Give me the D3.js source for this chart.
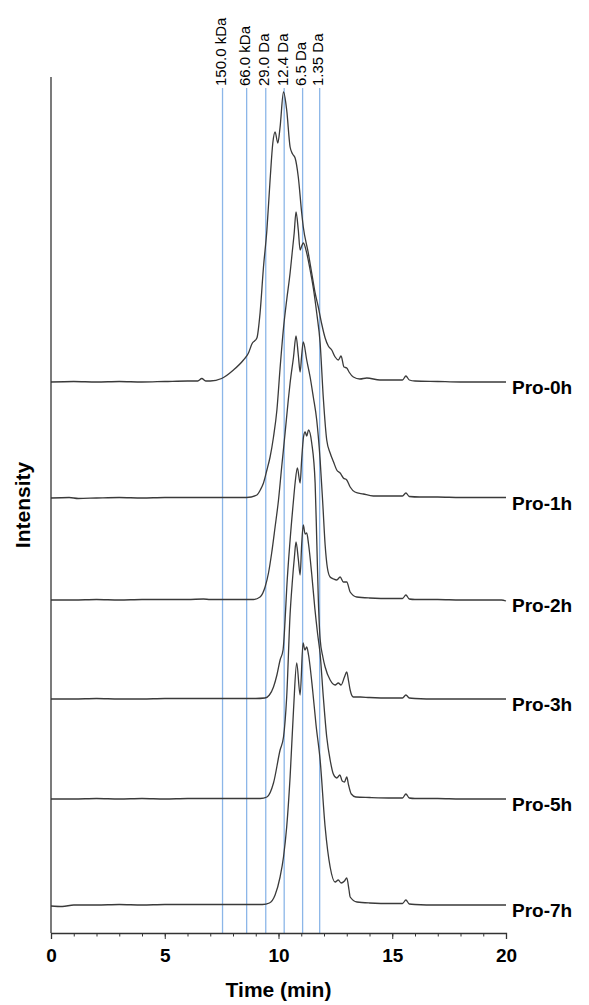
<!DOCTYPE html>
<html>
<head>
<meta charset="utf-8">
<script src="https://cdn.jsdelivr.net/npm/d3@7"></script>
<style>
  body { margin: 0; background: #fff; }
  text { font-family: Arial, "Liberation Sans", sans-serif; }
</style>
</head>
<body>
<div id="chart"></div>
<script>
// stacked SEC chromatograms, one per hydrolysis time

var seriesNames = ["Pro-0h", "Pro-1h", "Pro-2h", "Pro-3h", "Pro-5h", "Pro-7h"]
// vertical stacking offset of each trace (intensity units)
var seriesOffsets = [551, 435, 333, 234, 134, 28]

// [time (min), intensity above own baseline]
var pro0h = [[0,0],[1,0.5],[2,0],[3,0.5],[4,0],[5,0.5],[6,1],[6.45,1],[6.63,3.5],[6.8,1],[7.0,1],[7.5,3.5],
  [8.02,12],[8.46,22],[8.68,29],[8.83,38],[9.05,44],[9.19,69],[9.34,115],[9.49,152],[9.63,202],[9.75,239],
  [9.85,250],[9.97,239],[10.07,255],[10.22,290],[10.36,272],[10.51,235],[10.62,228],[10.73,224],[10.87,205],
  [11.02,169],[11.09,155],[11.31,129],[11.46,109],[11.61,89],[11.75,75],[11.9,58],[12.05,44],[12.19,36],
  [12.34,32],[12.49,25],[12.63,22],[12.75,26],[12.88,15],[13.0,14],[13.1,10],[13.29,5],[13.58,3],[13.88,4],
  [14.46,2],[15.0,2],[15.45,2],[15.6,6],[15.75,2],[16.0,1],[17,0.5],[18,0],[19,0],[20,0]]

var pro1h = [[0,0],[0.8,0.5],[1.2,-0.5],[2,0],[3,0.5],[4,0],[5,0.5],[6,0.5],[7,0.5],[8,0.5],[8.6,0.5],
  [9.05,3],[9.2,8],[9.34,15],[9.49,28],[9.63,41],[9.78,61],[9.93,88],[10.07,130],[10.22,170],[10.36,198],
  [10.51,225],[10.6,245],[10.69,265],[10.77,286],[10.87,268],[10.95,248],[11.02,252],[11.09,255],[11.24,245],
  [11.39,228],[11.53,210],[11.68,185],[11.83,155],[11.97,100],[12.12,58],[12.27,45],[12.42,36],[12.56,28],
  [12.71,25],[12.85,20],[13.0,18],[13.15,11],[13.36,6],[13.73,4],[14.17,2],[15.0,2],[15.45,2],[15.6,5],
  [15.75,1.5],[16.2,1],[17,1],[18,0.5],[19,0.5],[20,0.5]]

var pro2h = [[0,0],[1,0],[2,0.5],[3,0],[4,0.5],[5,0.5],[6,0.5],[6.7,1],[7,0.5],[8,0.5],[8.9,0.5],
  [9.19,3],[9.41,13],[9.56,27],[9.7,47],[9.85,73],[10.0,100],[10.14,133],[10.29,167],[10.43,200],[10.51,217],
  [10.66,243],[10.77,264],[10.87,245],[10.95,228],[11.02,245],[11.09,258],[11.24,240],[11.39,223],[11.53,203],
  [11.68,180],[11.83,140],[11.95,95],[12.05,55],[12.15,32],[12.27,23],[12.42,21],[12.56,20],[12.71,23],
  [12.85,18],[13.0,18],[13.15,8],[13.44,3],[14,2],[15,1.5],[15.45,1.5],[15.6,5],[15.75,1],[16,0.5],[17,0.5],
  [18,0],[19,0],[19.8,0],[20,-1]]

var pro3h = [[0,0],[1,0],[2,0.5],[3,0],[4,0],[5,0.5],[6,0.5],[7,0.5],[8,0.5],[9,0.5],[9.4,1],[9.6,4],
  [9.78,12],[9.93,24],[10.07,39],[10.2,49],[10.29,79],[10.36,110],[10.51,159],[10.66,199],[10.73,216],
  [10.83,231],[10.95,216],[11.02,240],[11.1,262],[11.17,267],[11.24,263],[11.32,269],[11.46,256],[11.61,216],
  [11.68,160],[11.75,100],[11.83,60],[11.95,42],[12.05,32],[12.27,19],[12.49,14],[12.63,16],[12.75,14],
  [12.9,22],[13.0,27],[13.08,18],[13.15,9],[13.29,2],[13.6,2],[14,1.5],[15,1],[15.45,1],[15.6,4],[15.75,1],
  [16,0.5],[17,0],[18,0],[20,0]]

var pro5h = [[0,0],[1,0],[2,0.5],[3,0],[4,0.5],[5,0],[6,0.5],[7,0.5],[8,0.5],[9.2,0.5],[9.49,2],[9.78,16],
  [10.07,49],[10.22,62],[10.36,102],[10.51,185],[10.6,215],[10.7,242],[10.77,257],[10.87,240],[10.95,224],
  [11.02,255],[11.09,274],[11.17,265],[11.24,266],[11.32,255],[11.46,225],[11.6,190],[11.72,165],[11.83,145],
  [11.97,102],[12.12,62],[12.27,39],[12.41,25],[12.56,21],[12.7,24],[12.8,18],[12.9,17],[13.0,22],[13.08,14],
  [13.2,5],[13.4,2],[14,1.5],[15,1],[15.45,1],[15.6,5],[15.75,1],[16,0.5],[17,0.5],[18,0],[20,0]]

var pro7h = [[0,-1],[0.5,-1.5],[1,0],[2,0],[3,0.5],[4,0],[5,0.5],[6,0.5],[7,0.5],[8,0.5],[9.3,0.5],[9.6,2],
  [9.85,10],[10.07,28],[10.22,48],[10.36,78],[10.51,128],[10.66,195],[10.8,242],[10.95,210],[11.08,262],
  [11.16,255],[11.24,258],[11.32,250],[11.5,215],[11.65,180],[11.83,145],[12.05,78],[12.27,38],[12.49,23],
  [12.63,25],[12.75,22],[12.9,24],[13.0,27],[13.1,15],[13.15,8],[13.45,3],[14,2],[15,1.5],[15.45,1.5],
  [15.6,5],[15.75,1],[16,0.5],[17,0],[20,0]]

var seriesData = [pro0h, pro1h, pro2h, pro3h, pro5h, pro7h]

// molecular weight standards
var markerTimes = [7.54, 8.6, 9.44, 10.25, 11.06, 11.81]
var markerLabels = ["150.0 kDa", "66.0 kDa", "29.0 Da", "12.4 Da", "6.5 Da", "1.35 Da"]

var xMajorTicks = [0, 5, 10, 15, 20]

var width = 589
var height = 1005

var x = d3.scaleLinear().domain([0, 20]).range([51, 506])
var y = d3.scaleLinear().domain([0, 856]).range([933, 77])

var svg = d3.select('#chart').append('svg')
            .attr('width', width)
            .attr('height', height)
            .style('background', '#fff')

// blue reference lines + rotated labels
svg.selectAll('.marker')
   .data(markerTimes)
   .enter().append('line')
   .attr('class', 'marker')
   .attr('x1', function(d) { return x(d) })
   .attr('x2', function(d) { return x(d) })
   .attr('y1', 88)
   .attr('y2', y(0))
   .attr('stroke', '#8cb6e8')
   .attr('stroke-width', 1.3)

svg.selectAll('.markerLabel')
   .data(markerTimes)
   .enter().append('text')
   .attr('class', 'markerLabel')
   .attr('transform', function(d) { return 'translate(' + (x(d) - 2) + ',86) rotate(-90)' })
   .attr('dy', '0.36em')
   .attr('font-size', 15)
   .attr('fill', '#000')
   .text(function(d, i) { return markerLabels[i] })

// traces
var line = d3.line()
             .x(function(d) { return x(d[0]) })
             .curve(d3.curveMonotoneX)

svg.selectAll('.trace')
   .data(seriesData)
   .enter().append('path')
   .attr('class', 'trace')
   .attr('fill', 'none')
   .attr('stroke', '#3a3a3a')
   .attr('stroke-width', 1.3)
   .attr('d', function(d, i) {
     return line.y(function(p) { return y(p[1] + seriesOffsets[i]) })(d)
   })

svg.selectAll('.seriesLabel')
   .data(seriesNames)
   .enter().append('text')
   .attr('class', 'seriesLabel')
   .attr('x', 512)
   .attr('y', function(d, i) { return y(seriesOffsets[i]) + 5 })
   .attr('dy', '0.35em')
   .attr('font-size', 19)
   .attr('font-weight', 'bold')
   .attr('fill', '#000')
   .text(function(d) { return d })

// axes
var xAxis = svg.append('g')
               .attr('transform', 'translate(0,' + y(0) + ')')
               .call(d3.axisBottom(x).tickValues(xMajorTicks).tickSize(6).tickPadding(10))
xAxis.select('.domain').attr('stroke', '#333').attr('stroke-width', 1.3)
xAxis.selectAll('.tick line').attr('stroke', '#333')
xAxis.selectAll('.tick text')
     .attr('font-size', 19)
     .attr('font-weight', 'bold')
     .attr('font-family', 'Arial, "Liberation Sans", sans-serif')
     .attr('fill', '#000')

var minor = svg.append('g')
               .attr('transform', 'translate(0,' + y(0) + ')')
               .call(d3.axisBottom(x).ticks(20).tickSize(3.5).tickFormat(''))
minor.select('.domain').remove()
minor.selectAll('.tick line').attr('stroke', '#333')

svg.append('line')
   .attr('x1', x(0)).attr('x2', x(0))
   .attr('y1', y(856)).attr('y2', y(0))
   .attr('stroke', '#333')
   .attr('stroke-width', 1.3)

svg.append('text')
   .attr('x', (x(0) + x(20)) / 2)
   .attr('y', 997)
   .attr('text-anchor', 'middle')
   .attr('font-size', 21)
   .attr('font-weight', 'bold')
   .text('Time (min)')

svg.append('text')
   .attr('transform', 'translate(30,' + ((y(0) + y(856)) / 2) + ') rotate(-90)')
   .attr('text-anchor', 'middle')
   .attr('font-size', 21)
   .attr('font-weight', 'bold')
   .text('Intensity')
</script>
</body>
</html>
